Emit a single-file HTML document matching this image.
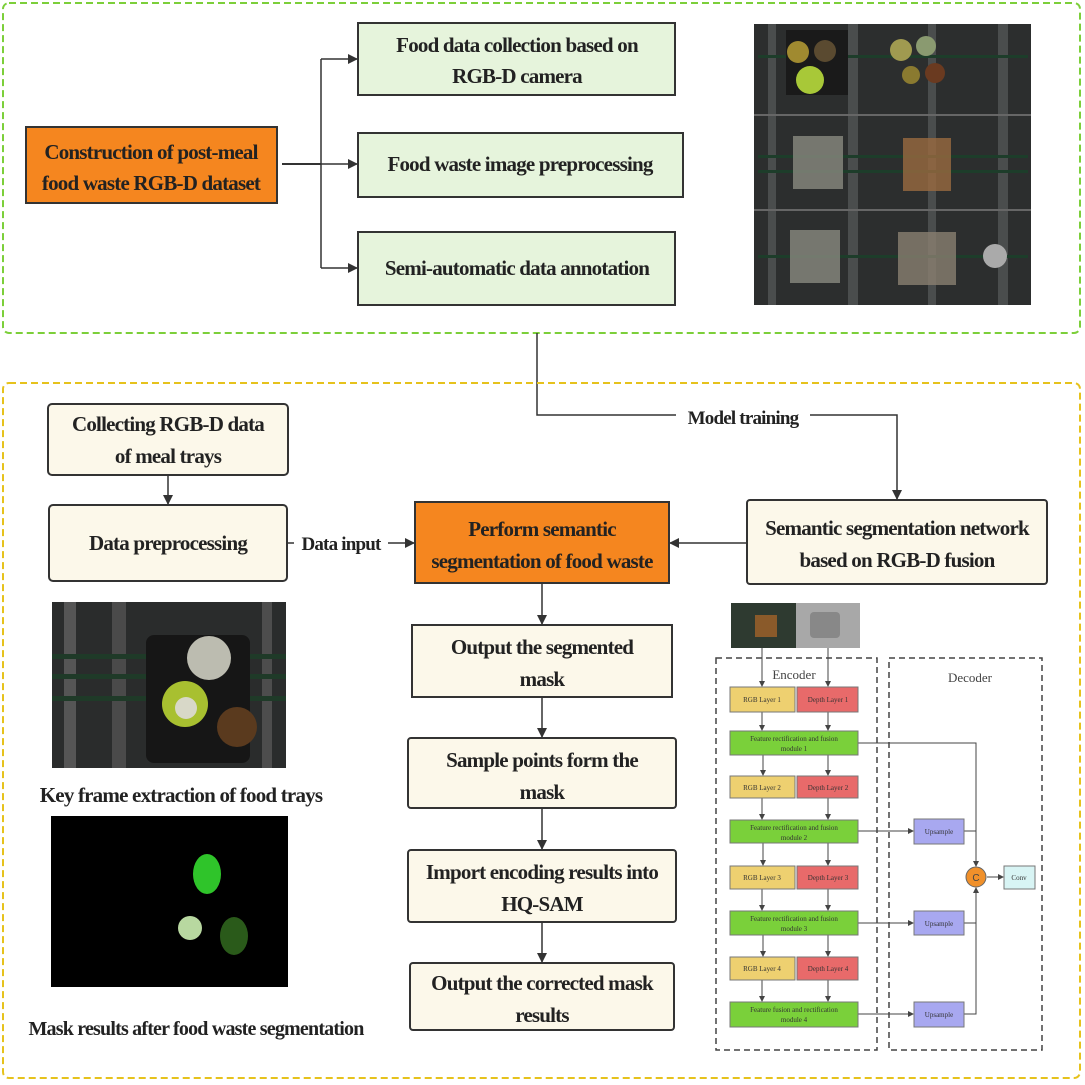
<!DOCTYPE html>
<html><head><meta charset="utf-8"><style>
html,body{margin:0;padding:0;background:#fff;}
svg{display:block;}
.t{font-family:"Liberation Serif",serif;font-weight:bold;font-size:21px;fill:#222;letter-spacing:-0.8px;}
.s{font-family:"Liberation Serif",serif;font-size:7px;fill:#333;}
</style></head><body>
<svg width="1085" height="1085" viewBox="0 0 1085 1085" xmlns="http://www.w3.org/2000/svg">
<defs>
<marker id="a" markerWidth="10" markerHeight="10" refX="9" refY="5" orient="auto" markerUnits="userSpaceOnUse"><path d="M0,0 L10,5 L0,10 z" fill="#333"/></marker>
<marker id="b" markerWidth="6" markerHeight="6" refX="5" refY="3" orient="auto" markerUnits="userSpaceOnUse"><path d="M0,0 L6,3 L0,6 z" fill="#444"/></marker>
</defs>
<!-- top dashed box -->
<rect x="3" y="3" width="1077" height="330" rx="6" fill="none" stroke="#7ccf3a" stroke-width="2" stroke-dasharray="7,4"/>
<rect x="26" y="127" width="251" height="76" fill="#f5861f" stroke="#333" stroke-width="2"/>
<text class="t" x="151" y="159" text-anchor="middle">Construction of post-meal</text>
<text class="t" x="151" y="190" text-anchor="middle">food waste RGB-D dataset</text>
<line x1="282" y1="164" x2="321" y2="164" stroke="#333" stroke-width="2"/>
<line x1="321" y1="59" x2="321" y2="268" stroke="#333" stroke-width="1.5"/>
<line x1="321" y1="59" x2="357" y2="59" stroke="#333" stroke-width="1.5" marker-end="url(#a)"/>
<line x1="321" y1="164" x2="357" y2="164" stroke="#333" stroke-width="1.5" marker-end="url(#a)"/>
<line x1="321" y1="268" x2="357" y2="268" stroke="#333" stroke-width="1.5" marker-end="url(#a)"/>
<rect x="358" y="23" width="317" height="72" fill="#e6f4dc" stroke="#333" stroke-width="2"/>
<text class="t" x="517" y="52" text-anchor="middle">Food data collection based on</text>
<text class="t" x="517" y="83" text-anchor="middle">RGB-D camera</text>
<rect x="358" y="133" width="325" height="64" fill="#e6f4dc" stroke="#333" stroke-width="2"/>
<text class="t" x="520" y="171" text-anchor="middle">Food waste image preprocessing</text>
<rect x="358" y="232" width="317" height="73" fill="#e6f4dc" stroke="#333" stroke-width="2"/>
<text class="t" x="517" y="275" text-anchor="middle">Semi-automatic data annotation</text>
<!-- top photo -->
<rect x="754" y="24" width="277" height="281" fill="#2c2e2e"/>
<g fill="#4a4d4d">
<rect x="768" y="24" width="8" height="281"/><rect x="848" y="24" width="10" height="281"/><rect x="928" y="24" width="8" height="281"/><rect x="998" y="24" width="10" height="281"/>
</g>
<line x1="754" y1="115" x2="1031" y2="115" stroke="#666" stroke-width="2"/>
<line x1="754" y1="210" x2="1031" y2="210" stroke="#666" stroke-width="2"/>
<g fill="#1d3d2a"><rect x="758" y="55" width="270" height="3"/><rect x="758" y="155" width="270" height="3"/><rect x="758" y="170" width="270" height="3"/><rect x="758" y="255" width="270" height="3"/></g>
<rect x="786" y="30" width="62" height="65" fill="#1a1a1a"/>
<circle cx="798" cy="52" r="11" fill="#a08a30"/><circle cx="825" cy="51" r="11" fill="#5a4a30"/><circle cx="810" cy="80" r="14" fill="#a8c838"/>
<circle cx="901" cy="50" r="11" fill="#a09a50"/><circle cx="926" cy="46" r="10" fill="#8a9a70"/><circle cx="911" cy="75" r="9" fill="#8a7a30"/><circle cx="935" cy="73" r="10" fill="#6a3a20"/>
<rect x="793" y="136" width="50" height="53" fill="#8a8a80" opacity="0.8"/><rect x="903" y="138" width="48" height="53" fill="#9a6a40" opacity="0.8"/>
<rect x="790" y="230" width="50" height="53" fill="#8a8a80" opacity="0.8"/><rect x="898" y="232" width="58" height="53" fill="#8a8070" opacity="0.8"/>
<circle cx="995" cy="256" r="12" fill="#aaa"/>
<!-- connector model training -->
<polyline points="537,333 537,415 676,415" fill="none" stroke="#333" stroke-width="1.5"/>
<polyline points="810,415 897,415 897,499" fill="none" stroke="#333" stroke-width="1.5" marker-end="url(#a)"/>
<text class="t" x="743" y="424" text-anchor="middle" style="font-size:19px">Model training</text>
<!-- bottom dashed box -->
<rect x="3" y="383" width="1077" height="695" rx="6" fill="none" stroke="#e6c21c" stroke-width="2" stroke-dasharray="7,4"/>
<rect x="48" y="404" width="240" height="71" rx="4" fill="#fcf8ea" stroke="#333" stroke-width="2"/>
<text class="t" x="168" y="431" text-anchor="middle">Collecting RGB-D data</text>
<text class="t" x="168" y="463" text-anchor="middle">of meal trays</text>
<line x1="168" y1="475" x2="168" y2="504" stroke="#333" stroke-width="1.5" marker-end="url(#a)"/>
<rect x="49" y="505" width="238" height="76" rx="4" fill="#fcf8ea" stroke="#333" stroke-width="2"/>
<text class="t" x="168" y="550" text-anchor="middle">Data preprocessing</text>
<line x1="288" y1="543" x2="294" y2="543" stroke="#333" stroke-width="1.5"/>
<text class="t" x="341" y="550" text-anchor="middle" style="font-size:19px">Data input</text>
<line x1="388" y1="543" x2="414" y2="543" stroke="#333" stroke-width="1.5" marker-end="url(#a)"/>
<rect x="415" y="502" width="254" height="81" fill="#f5861f" stroke="#333" stroke-width="2"/>
<text class="t" x="542" y="536" text-anchor="middle">Perform semantic</text>
<text class="t" x="542" y="568" text-anchor="middle">segmentation of food waste</text>
<line x1="747" y1="543" x2="670" y2="543" stroke="#333" stroke-width="1.5" marker-end="url(#a)"/>
<rect x="747" y="500" width="300" height="84" rx="3" fill="#fcf8ea" stroke="#333" stroke-width="2"/>
<text class="t" x="897" y="535" text-anchor="middle">Semantic segmentation network</text>
<text class="t" x="897" y="567" text-anchor="middle">based on RGB-D fusion</text>
<!-- middle column -->
<line x1="542" y1="583" x2="542" y2="624" stroke="#333" stroke-width="1.5" marker-end="url(#a)"/>
<rect x="412" y="625" width="260" height="72" fill="#fcf8ea" stroke="#333" stroke-width="2"/>
<text class="t" x="542" y="654" text-anchor="middle">Output the segmented</text>
<text class="t" x="542" y="686" text-anchor="middle">mask</text>
<line x1="542" y1="697" x2="542" y2="737" stroke="#333" stroke-width="1.5" marker-end="url(#a)"/>
<rect x="408" y="738" width="268" height="70" rx="3" fill="#fcf8ea" stroke="#333" stroke-width="2"/>
<text class="t" x="542" y="767" text-anchor="middle">Sample points form the</text>
<text class="t" x="542" y="799" text-anchor="middle">mask</text>
<line x1="542" y1="808" x2="542" y2="849" stroke="#333" stroke-width="1.5" marker-end="url(#a)"/>
<rect x="408" y="850" width="268" height="72" rx="3" fill="#fcf8ea" stroke="#333" stroke-width="2"/>
<text class="t" x="542" y="879" text-anchor="middle">Import encoding results into</text>
<text class="t" x="542" y="911" text-anchor="middle">HQ-SAM</text>
<line x1="542" y1="922" x2="542" y2="962" stroke="#333" stroke-width="1.5" marker-end="url(#a)"/>
<rect x="410" y="963" width="264" height="67" rx="3" fill="#fcf8ea" stroke="#333" stroke-width="2"/>
<text class="t" x="542" y="990" text-anchor="middle">Output the corrected mask</text>
<text class="t" x="542" y="1022" text-anchor="middle">results</text>
<!-- left photos -->
<rect x="52" y="602" width="234" height="166" fill="#2a2c2c"/>
<rect x="64" y="602" width="12" height="166" fill="#555"/><rect x="112" y="602" width="14" height="166" fill="#4a4a4a"/><rect x="262" y="602" width="10" height="166" fill="#4d4d4d"/>
<rect x="52" y="654" width="234" height="5" fill="#1f3a28"/><rect x="52" y="674" width="234" height="5" fill="#1f3a28"/><rect x="52" y="696" width="234" height="5" fill="#1f3a28"/>
<rect x="146" y="635" width="104" height="128" rx="8" fill="#161616"/>
<circle cx="209" cy="658" r="22" fill="#bcbcb0"/>
<circle cx="185" cy="704" r="23" fill="#a8c030"/><circle cx="186" cy="708" r="11" fill="#d8d8c8"/>
<circle cx="237" cy="727" r="20" fill="#5a3a1e"/>
<text class="t" x="181" y="802" text-anchor="middle">Key frame extraction of food trays</text>
<rect x="51" y="816" width="237" height="171" fill="#000"/>
<ellipse cx="207" cy="874" rx="14" ry="20" fill="#2fc42a"/>
<circle cx="190" cy="928" r="12" fill="#b8d8a0"/>
<ellipse cx="234" cy="936" rx="14" ry="19" fill="#2a5a1a"/>
<text class="t" x="196" y="1035" text-anchor="middle" style="font-size:20px">Mask results after food waste segmentation</text>
<!-- encoder/decoder -->
<rect x="731" y="603" width="65" height="45" fill="#2e3a30"/><rect x="755" y="615" width="22" height="22" fill="#8a5a2a"/>
<rect x="796" y="603" width="64" height="45" fill="#a8a8a8"/><rect x="810" y="612" width="30" height="26" rx="4" fill="#888"/>
<rect x="716" y="658" width="161" height="392" fill="none" stroke="#444" stroke-width="1.5" stroke-dasharray="6,4"/>
<rect x="889" y="658" width="153" height="392" fill="none" stroke="#444" stroke-width="1.5" stroke-dasharray="6,4"/>
<text x="794" y="679" text-anchor="middle" style="font-family:'Liberation Serif',serif;font-size:13px;fill:#444">Encoder</text>
<text x="970" y="682" text-anchor="middle" style="font-family:'Liberation Serif',serif;font-size:13px;fill:#444">Decoder</text>
<g stroke="#444" stroke-width="1" marker-end="url(#b)">
<line x1="762" y1="648" x2="762" y2="686"/><line x1="828" y1="648" x2="828" y2="686"/>
<line x1="762" y1="712" x2="762" y2="730"/><line x1="828" y1="712" x2="828" y2="730"/>
<line x1="763" y1="755" x2="763" y2="775"/><line x1="828" y1="755" x2="828" y2="775"/>
<line x1="762" y1="798" x2="762" y2="819"/><line x1="828" y1="798" x2="828" y2="819"/>
<line x1="763" y1="843" x2="763" y2="865"/><line x1="828" y1="843" x2="828" y2="865"/>
<line x1="762" y1="889" x2="762" y2="910"/><line x1="828" y1="889" x2="828" y2="910"/>
<line x1="763" y1="935" x2="763" y2="956"/><line x1="828" y1="935" x2="828" y2="956"/>
<line x1="762" y1="980" x2="762" y2="1001"/><line x1="828" y1="980" x2="828" y2="1001"/>
<line x1="858" y1="831" x2="913" y2="831"/><line x1="858" y1="923" x2="913" y2="923"/><line x1="858" y1="1014" x2="913" y2="1014"/>
<line x1="987" y1="877" x2="1003" y2="877"/>
</g>
<g fill="none" stroke="#444" stroke-width="1">
<polyline points="858,743 976,743 976,866" marker-end="url(#b)"/>
<polyline points="964,831 976,831"/>
<polyline points="964,923 976,923"/>
<polyline points="964,1014 976,1014 976,888" marker-end="url(#b)"/>
</g>
<g stroke="#777" stroke-width="1">
<rect x="730" y="687" width="65" height="25" fill="#eed070"/><rect x="797" y="687" width="61" height="25" fill="#e86a6a"/>
<rect x="730" y="776" width="65" height="22" fill="#eed070"/><rect x="797" y="776" width="61" height="22" fill="#e86a6a"/>
<rect x="730" y="866" width="65" height="23" fill="#eed070"/><rect x="797" y="866" width="61" height="23" fill="#e86a6a"/>
<rect x="730" y="957" width="65" height="23" fill="#eed070"/><rect x="797" y="957" width="61" height="23" fill="#e86a6a"/>
<rect x="730" y="731" width="128" height="24" fill="#7ad03a"/><rect x="730" y="820" width="128" height="23" fill="#7ad03a"/>
<rect x="730" y="911" width="128" height="24" fill="#7ad03a"/><rect x="730" y="1002" width="128" height="25" fill="#7ad03a"/>
<rect x="914" y="819" width="50" height="25" fill="#a8a8f0"/><rect x="914" y="911" width="50" height="24" fill="#a8a8f0"/><rect x="914" y="1002" width="50" height="25" fill="#a8a8f0"/>
<rect x="1004" y="866" width="31" height="23" fill="#d8f4f4"/>
</g>
<circle cx="976" cy="877" r="10" fill="#f0902a" stroke="#666"/>
<text x="976" y="881" text-anchor="middle" style="font-family:'Liberation Sans',sans-serif;font-size:10px;fill:#444">C</text>
<g class="s" text-anchor="middle">
<text x="762" y="702">RGB Layer 1</text><text x="828" y="702">Depth Layer 1</text>
<text x="762" y="790">RGB Layer 2</text><text x="828" y="790">Depth Layer 2</text>
<text x="762" y="880">RGB Layer 3</text><text x="828" y="880">Depth Layer 3</text>
<text x="762" y="971">RGB Layer 4</text><text x="828" y="971">Depth Layer 4</text>
<text x="794" y="741">Feature rectification and fusion</text><text x="794" y="751">module 1</text>
<text x="794" y="830">Feature rectification and fusion</text><text x="794" y="840">module 2</text>
<text x="794" y="921">Feature rectification and fusion</text><text x="794" y="931">module 3</text>
<text x="794" y="1012">Feature fusion and rectification</text><text x="794" y="1022">module 4</text>
<text x="939" y="834">Upsample</text><text x="939" y="926">Upsample</text><text x="939" y="1017">Upsample</text>
<text x="1019" y="880">Conv</text>
</g>
</svg>
</body></html>
